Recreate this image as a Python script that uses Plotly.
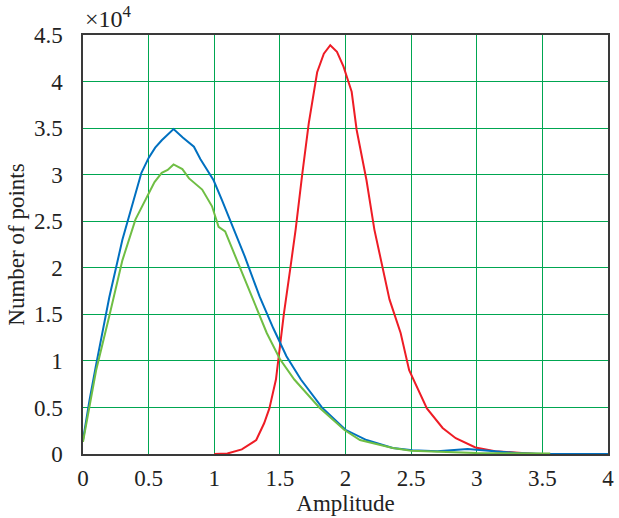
import plotly.graph_objects as go

# Amplitude histograms (counts in units of 1e4)
blue_x = [0, 0.05, 0.1, 0.2, 0.3, 0.4, 0.445, 0.5, 0.55, 0.6, 0.64, 0.69,
          0.76, 0.845, 0.895, 0.995, 1.058, 1.15, 1.233, 1.346, 1.45, 1.55, 1.66, 1.82, 2.0, 2.16,
          2.36, 2.51, 2.7, 2.93, 3.1, 3.3, 3.5, 4.0]
blue_y = [0.15, 0.58, 0.96, 1.68, 2.3, 2.8, 3.02, 3.18, 3.29, 3.37, 3.42, 3.49,
          3.40, 3.30, 3.165, 2.94, 2.73, 2.42, 2.12, 1.69, 1.35, 1.05, 0.80, 0.50, 0.26, 0.15,
          0.065, 0.04, 0.03, 0.055, 0.035, 0.01, 0.0, 0.0]

green_x = [0, 0.05, 0.1, 0.2, 0.3, 0.4, 0.5, 0.545, 0.6, 0.645, 0.69,
           0.757, 0.808, 0.908, 0.983, 1.033, 1.083, 1.183, 1.296, 1.4, 1.5, 1.61, 1.80, 1.99,
           2.11, 2.36, 2.5, 3.0, 3.56]
green_y = [0.13, 0.5, 0.9, 1.48, 2.08, 2.52, 2.8, 2.92, 3.02, 3.05, 3.11,
           3.06, 2.96, 2.84, 2.66, 2.44, 2.39, 2.05, 1.66, 1.30, 1.02, 0.80, 0.50, 0.26,
           0.15, 0.065, 0.035, 0.01, 0.005]

red_x = [1.0, 1.1, 1.21, 1.32, 1.38, 1.42, 1.47, 1.53, 1.58, 1.62, 1.67, 1.72, 1.784, 1.835,
         1.884, 1.935, 1.985, 2.047, 2.085, 2.16, 2.22, 2.28, 2.335, 2.42, 2.485, 2.62, 2.74,
         2.84, 2.99, 3.14, 3.31, 3.45]
red_y = [0.0, 0.005, 0.05, 0.15, 0.33, 0.49, 0.80, 1.5, 2.0, 2.41, 3.0, 3.55, 4.10, 4.30,
         4.39, 4.32, 4.16, 3.89, 3.48, 2.94, 2.41, 2.0, 1.66, 1.30, 0.90, 0.49, 0.28,
         0.17, 0.07, 0.03, 0.01, 0.0]

grid_color = "rgb(0,166,81)"
axis_color = "#3a3a3a"
font_family = "Liberation Serif"
text_color = "#222"

fig = go.Figure()
fig.add_trace(go.Scatter(x=red_x, y=red_y, mode="lines",
                         line=dict(color="#EE1C25", width=2), showlegend=False))
fig.add_trace(go.Scatter(x=blue_x, y=blue_y, mode="lines",
                         line=dict(color="#0070C0", width=2), showlegend=False))
fig.add_trace(go.Scatter(x=green_x, y=green_y, mode="lines",
                         line=dict(color="#6FBE44", width=2), showlegend=False))

fig.update_layout(
    width=619, height=518,
    margin=dict(l=83, r=5, t=35, b=64),
    paper_bgcolor="white", plot_bgcolor="white",
    font=dict(family=font_family, size=23, color=text_color),
    xaxis=dict(range=[0, 4], dtick=0.5, tick0=0, showgrid=True, gridcolor=grid_color,
               gridwidth=1.3, zeroline=False, showline=True, linecolor=axis_color,
               linewidth=1.5, mirror=True, ticks="", ticklabelstandoff=3,
               tickfont=dict(size=23),
               title=dict(text="Amplitude", standoff=2, font=dict(size=23))),
    yaxis=dict(range=[0, 4.5], dtick=0.5, tick0=0, showgrid=True, gridcolor=grid_color,
               gridwidth=1.3, zeroline=False, showline=True, linecolor=axis_color,
               linewidth=1.5, mirror=True, ticks="", ticklabelstandoff=14,
               tickfont=dict(size=23),
               title=dict(text="Number of points", standoff=3, font=dict(size=23))),
    annotations=[dict(text="×10<sup>4</sup>", x=0, y=1, xref="paper", yref="paper",
                      xanchor="left", yanchor="bottom", yshift=1, showarrow=False,
                      font=dict(family=font_family, size=24, color=text_color))],
)

fig.write_html("out.html")
